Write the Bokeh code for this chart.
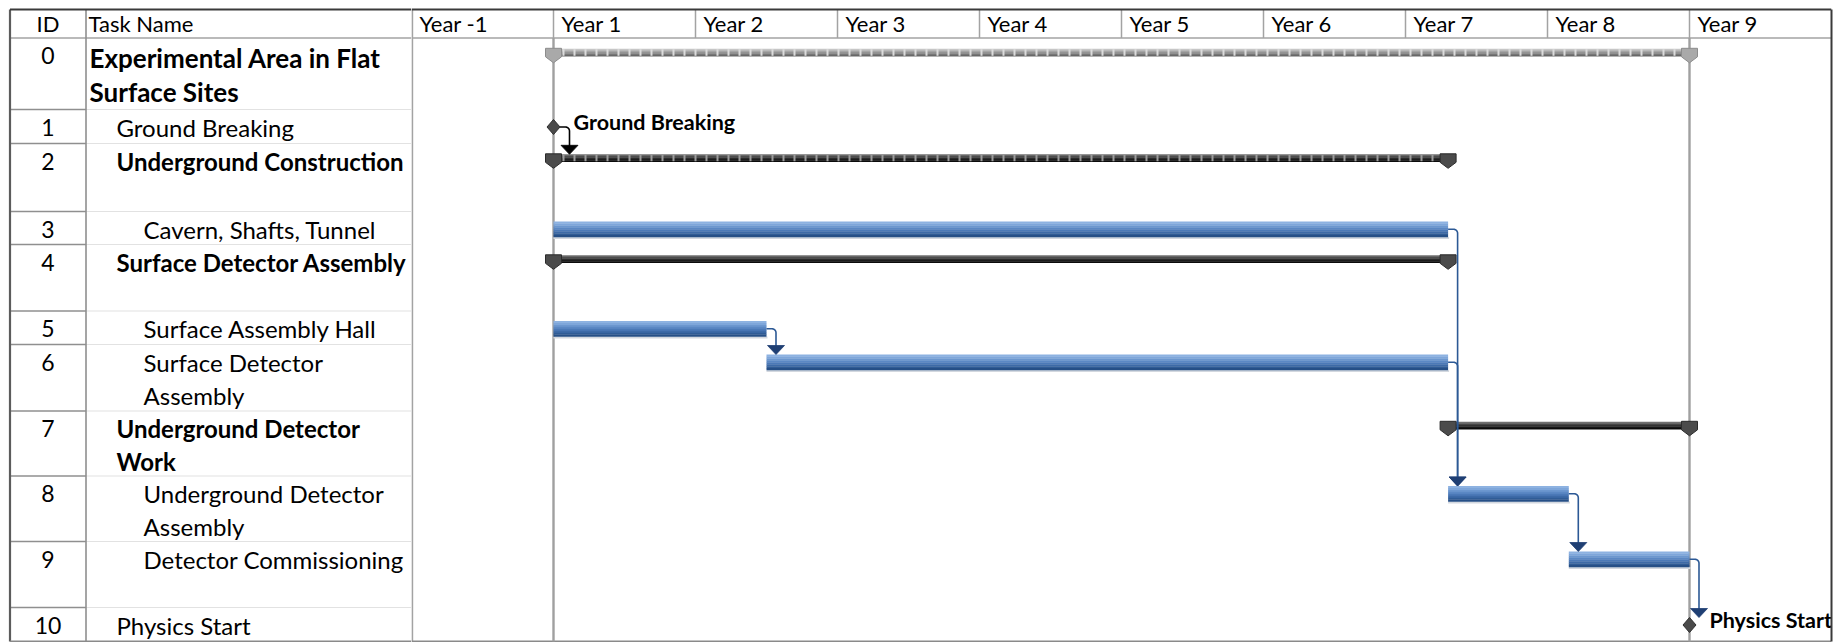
import math

from bokeh.core.properties import value
from bokeh.embed import file_html
from bokeh.layouts import row
from bokeh.models import Range1d
from bokeh.plotting import figure
from bokeh.resources import INLINE

# ---------------------------------------------------------------- schedule
TASK_IDS = [0, 1, 2, 3, 4, 5, 6, 7, 8, 9, 10]
TASK_NAMES = [
    "Experimental Area in Flat\nSurface Sites",
    "Ground Breaking",
    "Underground Construction",
    "Cavern, Shafts, Tunnel",
    "Surface Detector Assembly",
    "Surface Assembly Hall",
    "Surface Detector\nAssembly",
    "Underground Detector\nWork",
    "Underground Detector\nAssembly",
    "Detector Commissioning",
    "Physics Start",
]
OUTLINE_LEVEL = [0, 1, 1, 2, 1, 2, 2, 1, 2, 2, 1]
TASK_TYPE = ["summary", "milestone", "summary", "task", "summary", "task",
             "task", "summary", "task", "task", "milestone"]
# years counted from the start of "Year 1"
START_YEAR = [0.0, 0.0, 0.0, 0.0, 0.0, 0.0, 1.5, 6.3, 6.3, 7.15, 8.0]
FINISH_YEAR = [8.0, 0.0, 6.3, 6.3, 6.3, 1.5, 6.3, 8.0, 7.15, 8.0, 8.0]
# finish-to-start links (predecessor, successor)
LINKS = [(1, 2), (3, 8), (5, 6), (6, 8), (8, 9), (9, 10)]

COLUMN_HEADERS = ["ID", "Task Name"]
TIMESCALE_LABELS = ["Year -1", "Year 1", "Year 2", "Year 3", "Year 4",
                    "Year 5", "Year 6", "Year 7", "Year 8", "Year 9"]
TIMESCALE_START = [-1, 0, 1, 2, 3, 4, 5, 6, 7, 8]
TIMESCALE_END = 9

# ---------------------------------------------------------------- layout
FONT = "Lato"
W_TABLE, W_CHART, H = 411, 1426, 642
YEAR_PX = 142.0
PX = 1.0 / YEAR_PX              # one screen pixel in years
FRAME_TOP, HEADER_BOTTOM, FRAME_BOTTOM = 9.0, 37.5, 641.0
FRAME_LEFT, ID_RIGHT = 9.5, 85.5
HEADER_TEXT_Y = 22.5
ROW_HEIGHTS = [71.5, 34, 68, 33, 66.5, 33.5, 66.5, 65, 65.5, 66, 34]

TOPS = []
_y = HEADER_BOTTOM
for _h in ROW_HEIGHTS:
    TOPS.append(_y)
    _y += _h

BAR_OFF, BAR_H = 10.0, 15.5         # task bar
SUM_OFF, SUM_H = 10.8, 7.5          # summary bar
MS_OFF, MS_HW, MS_HH = 17.5, 6.5, 7.5  # milestone diamond

HEADER_SIZE = "22px"
NAME_SIZE = "24px"
TOP_NAME_SIZE = "26px"
LABEL_SIZE = "21.5px"

TASK_GRADIENT = ["#8db2e1", "#7ea6da", "#6c97cf", "#5b88c4", "#4b79b7",
                 "#3d6aa7", "#305c96", "#264f86"]
SUMMARY_GRADIENT = ["#707070", "#4d4d4d", "#323232", "#1c1c1c", "#0b0b0b"]
TOP_SUMMARY_GRADIENT = ["#c6c6c6", "#ababab", "#949494", "#7d7d7d", "#686868"]
ROLLUP_TEXTURE = {0: "#dcdcdc", 2: "#9c9c9c"}
LINK_COLOR, HEAD_COLOR = "#2c5995", "#1f3f73"

GRID = "#a3a3a3"
FRAME_DARK = "#3a3a3a"


def make_fig(width, x_range):
    f = figure(width=width, height=H, x_range=x_range, y_range=Range1d(H, 0),
               output_backend="svg", toolbar_location=None, min_border=0,
               x_axis_location=None, y_axis_location=None,
               background_fill_color="white", border_fill_color="white")
    f.grid.visible = False
    f.outline_line_color = None
    return f


def txt(f, xs, ys, texts, size, bold=False, align="left"):
    f.text(x=xs, y=ys, text=texts, text_font=value(FONT),
           text_font_size=value(size),
           text_font_style=value("bold" if bold else "normal"),
           text_align=value(align), text_baseline=value("middle"),
           text_color="#000000")


# ================================================================ table
tbl = make_fig(W_TABLE, Range1d(0, W_TABLE))

# row separators: darker in the ID column, faint in the name column
bottoms = [t + h for t, h in zip(TOPS, ROW_HEIGHTS)][:-1]
tbl.segment(x0=FRAME_LEFT, x1=ID_RIGHT, y0=bottoms, y1=bottoms,
            line_color="#8f8f8f", line_width=1.6)
tbl.segment(x0=ID_RIGHT, x1=W_TABLE, y0=bottoms, y1=bottoms,
            line_color="#e2e2e2", line_width=1.1)
# header and frame lines
tbl.segment(x0=FRAME_LEFT, x1=W_TABLE, y0=HEADER_BOTTOM, y1=HEADER_BOTTOM,
            line_color=GRID, line_width=1.6)
tbl.segment(x0=ID_RIGHT, x1=ID_RIGHT, y0=FRAME_TOP, y1=FRAME_BOTTOM,
            line_color="#8f8f8f", line_width=1.6)
tbl.segment(x0=FRAME_LEFT, x1=FRAME_LEFT, y0=FRAME_TOP, y1=FRAME_BOTTOM,
            line_color="#5c5c5c", line_width=2.2)
tbl.segment(x0=FRAME_LEFT, x1=W_TABLE, y0=FRAME_TOP, y1=FRAME_TOP,
            line_color=FRAME_DARK, line_width=2.0)
tbl.segment(x0=FRAME_LEFT, x1=W_TABLE, y0=FRAME_BOTTOM, y1=FRAME_BOTTOM,
            line_color="#8a8a8a", line_width=2.0)

# column headers
txt(tbl, [47.5], [HEADER_TEXT_Y], [COLUMN_HEADERS[0]], HEADER_SIZE, align="center")
txt(tbl, [88], [HEADER_TEXT_Y], [COLUMN_HEADERS[1]], HEADER_SIZE)

# ID numbers and task names
id_y, groups = [], {}
for i, name in enumerate(TASK_NAMES):
    top_level = OUTLINE_LEVEL[i] == 0
    first = TOPS[i] + (19.5 if top_level else 17.5)
    pitch = 34.0 if top_level else 33.0
    id_y.append(TOPS[i] + 17.5)
    key = (TOP_NAME_SIZE if top_level else NAME_SIZE, TASK_TYPE[i] == "summary")
    gx, gy, gt = groups.setdefault(key, ([], [], []))
    for k, line in enumerate(name.split("\n")):
        gx.append(89 + 27 * OUTLINE_LEVEL[i])
        gy.append(first + k * pitch)
        gt.append(line)

txt(tbl, [47.5] * len(TASK_IDS), id_y, [str(v) for v in TASK_IDS], "23px",
    align="center")
for (size, bold), (gx, gy, gt) in groups.items():
    txt(tbl, gx, gy, gt, size, bold=bold)

# ================================================================ chart
gan = make_fig(W_CHART, Range1d(-1, -1 + W_CHART * PX))
t_end = TIMESCALE_END

# frame, header grid
gan.segment(x0=-1 + 0.8 * PX, x1=-1 + 0.8 * PX, y0=FRAME_TOP, y1=FRAME_BOTTOM,
            line_color=GRID, line_width=1.8)
gan.segment(x0=TIMESCALE_START[1:], x1=TIMESCALE_START[1:], y0=FRAME_TOP,
            y1=HEADER_BOTTOM, line_color=GRID, line_width=1.5)
gan.segment(x0=-1, x1=t_end, y0=HEADER_BOTTOM, y1=HEADER_BOTTOM,
            line_color=GRID, line_width=1.6)
gan.segment(x0=-1, x1=t_end, y0=FRAME_TOP, y1=FRAME_TOP,
            line_color=FRAME_DARK, line_width=2.0)
gan.segment(x0=-1, x1=t_end, y0=FRAME_BOTTOM, y1=FRAME_BOTTOM,
            line_color="#8a8a8a", line_width=2.0)

# project start / finish lines
gan.segment(x0=[START_YEAR[0], FINISH_YEAR[0]], x1=[START_YEAR[0], FINISH_YEAR[0]],
            y0=HEADER_BOTTOM, y1=FRAME_BOTTOM, line_color="#a0a0a0", line_width=2.4)

txt(gan, [s + 8 * PX for s in TIMESCALE_START], [HEADER_TEXT_Y] * len(TIMESCALE_START),
    TIMESCALE_LABELS, HEADER_SIZE)

# ---- task bars (vertical gradient built from thin strips)
tasks = [i for i, k in enumerate(TASK_TYPE) if k == "task"]
n = len(TASK_GRADIENT)
gan.quad(left=[START_YEAR[i] for i in tasks],
         right=[FINISH_YEAR[i] + 1 * PX for i in tasks],
         top=[TOPS[i] + BAR_OFF + BAR_H for i in tasks],
         bottom=[TOPS[i] + BAR_OFF + BAR_H + 2.0 for i in tasks],
         fill_color="#d3d8df", line_color=None)
for k, col in enumerate(TASK_GRADIENT):
    gan.quad(left=[START_YEAR[i] for i in tasks],
             right=[FINISH_YEAR[i] for i in tasks],
             top=[TOPS[i] + BAR_OFF + k * BAR_H / n for i in tasks],
             bottom=[TOPS[i] + BAR_OFF + (k + 1) * BAR_H / n + 0.3 for i in tasks],
             fill_color=col, line_color=None)

# ---- summary bars
summaries = [i for i, k in enumerate(TASK_TYPE) if k == "summary"]
for i in summaries:
    grad = TOP_SUMMARY_GRADIENT if OUTLINE_LEVEL[i] == 0 else SUMMARY_GRADIENT
    m = len(grad)
    top = TOPS[i] + SUM_OFF
    for k, col in enumerate(grad):
        gan.quad(left=[START_YEAR[i]], right=[FINISH_YEAR[i]],
                 top=[top + k * SUM_H / m], bottom=[top + (k + 1) * SUM_H / m + 0.3],
                 fill_color=col, line_color=None)
    if i in ROLLUP_TEXTURE:
        gan.segment(x0=[START_YEAR[i] + 9 * PX], x1=[FINISH_YEAR[i] - 9 * PX],
                    y0=[top + SUM_H / 2], y1=[top + SUM_H / 2],
                    line_color=ROLLUP_TEXTURE[i], line_width=SUM_H - 1.0,
                    line_dash="2 9")
    cap_fill = "#a9a9a9" if OUTLINE_LEVEL[i] == 0 else "#4b4b4b"
    cap_line = "#8c8c8c" if OUTLINE_LEVEL[i] == 0 else "#2b2b2b"
    xs, ys = [], []
    for x in (START_YEAR[i], FINISH_YEAR[i]):
        xs.append([x - 8 * PX, x + 8 * PX, x + 8 * PX, x, x - 8 * PX])
        ys.append([top - 0.5, top - 0.5, top + 8, top + 14, top + 8])
    gan.patches(xs=xs, ys=ys, fill_color=cap_fill, line_color=cap_line,
                line_width=1)


def bar_mid(i):
    if TASK_TYPE[i] == "task":
        return TOPS[i] + BAR_OFF + BAR_H / 2
    if TASK_TYPE[i] == "summary":
        return TOPS[i] + SUM_OFF + SUM_H / 2
    return TOPS[i] + MS_OFF


def bar_top(i):
    if TASK_TYPE[i] == "task":
        return TOPS[i] + BAR_OFF
    if TASK_TYPE[i] == "summary":
        return TOPS[i] + SUM_OFF
    return TOPS[i] + MS_OFF - MS_HH


# ---- link lines with a rounded bend and an arrow head
for a, b in LINKS:
    ms = TASK_TYPE[a] == "milestone"
    x0 = FINISH_YEAR[a] + (MS_HW if ms else 0) * PX
    xv = FINISH_YEAR[a] + (16 if ms else 9.5) * PX
    y0 = bar_mid(a)
    tip = bar_top(b)
    head = tip - 9
    r = 4.0
    xs, ys = [x0], [y0]
    for d in range(0, 91, 15):
        th = math.radians(d)
        xs.append(xv - r * PX + r * math.sin(th) * PX)
        ys.append(y0 + r - r * math.cos(th))
    xs.append(xv)
    ys.append(head + 1)
    to_summary = TASK_TYPE[b] == "summary"
    gan.line(xs, ys, line_color="#000000" if to_summary else LINK_COLOR,
             line_width=1.6)
    gan.patch([xv - 8.5 * PX, xv + 8.5 * PX, xv], [head, head, tip],
              fill_color="#000000" if to_summary else HEAD_COLOR,
              line_color="#000000" if to_summary else HEAD_COLOR, line_width=0.8)

# ---- milestones and their labels
miles = [i for i, k in enumerate(TASK_TYPE) if k == "milestone"]
dx, dy = [], []
for i in miles:
    x, y = START_YEAR[i], TOPS[i] + MS_OFF
    dx.append([x - MS_HW * PX, x, x + MS_HW * PX, x])
    dy.append([y, y - MS_HH, y, y + MS_HH])
gan.patches(xs=dx, ys=dy, fill_color="#4a4a4a", line_color="#2e2e2e", line_width=1)
txt(gan, [START_YEAR[i] + 20 * PX for i in miles],
    [TOPS[i] + MS_OFF - 5.5 for i in miles],
    [TASK_NAMES[i] for i in miles], LABEL_SIZE, bold=True)

# white margin right of the frame, then the frame itself on top
gan.quad(left=[t_end], right=[-1 + W_CHART * PX], top=[0], bottom=[H],
         fill_color="white", line_color=None)
gan.segment(x0=t_end, x1=t_end, y0=FRAME_TOP, y1=FRAME_BOTTOM,
            line_color=FRAME_DARK, line_width=2.0)

layout = row(tbl, gan, spacing=0)
open("out.html", "w").write(file_html(layout, INLINE))
